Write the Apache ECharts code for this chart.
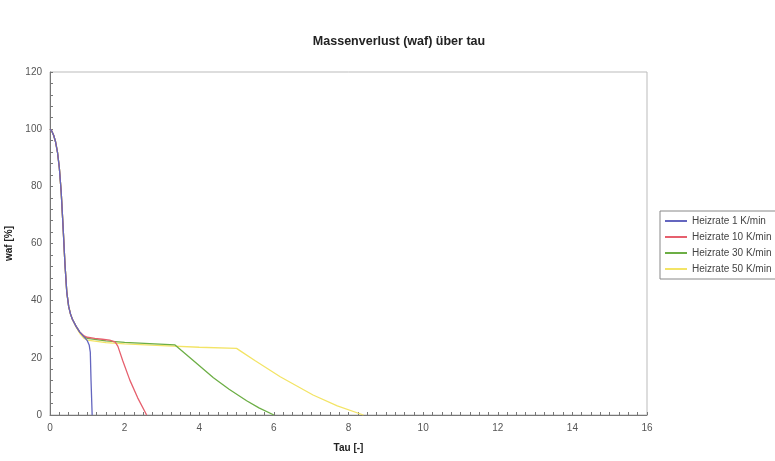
<!DOCTYPE html>
<html>
<head>
<meta charset="utf-8">
<script src="https://cdn.jsdelivr.net/npm/echarts@6/dist/echarts.min.js"></script>
<style>
  html, body { margin: 0; padding: 0; background: #fff; }
  #chart { width: 775px; height: 461px; }
</style>
</head>
<body>
<div id="chart"></div>
<script>
// Values: [tau, waf]
const rate1 = [[0, 100], [0.05, 99.3], [0.1, 97.8], [0.15, 95.5], [0.2, 92], [0.25, 86.5], [0.3, 78], [0.35, 66], [0.4, 53], [0.45, 43], [0.5, 38], [0.55, 35.3], [0.6, 33.5], [0.7, 31], [0.8, 29], [0.9, 27.5], [1.0, 26], [1.05, 24.5], [1.08, 22], [1.1, 12], [1.13, 0]];
const rate10 = [[0, 100], [0.05, 99.3], [0.1, 97.8], [0.15, 95.5], [0.2, 92], [0.25, 86.5], [0.3, 78], [0.35, 66], [0.4, 53], [0.45, 43], [0.5, 38], [0.55, 35.3], [0.6, 33.5], [0.7, 31], [0.8, 29], [0.9, 27.8], [1.0, 27.2], [1.2, 26.8], [1.4, 26.5], [1.6, 26.2], [1.75, 25.5], [1.82, 24], [1.95, 19], [2.14, 12.2], [2.35, 6], [2.59, 0]];
const rate30 = [[0, 100], [0.05, 99.3], [0.1, 97.8], [0.15, 95.5], [0.2, 92], [0.25, 86.5], [0.3, 78], [0.35, 66], [0.4, 53], [0.45, 43], [0.5, 38], [0.55, 35.3], [0.6, 33.5], [0.7, 31], [0.8, 29], [0.9, 27.6], [1.0, 26.8], [1.5, 25.9], [2.0, 25.4], [2.8, 24.9], [3.35, 24.5], [3.5, 22.8], [3.8, 19.5], [4.38, 13], [4.8, 9], [5.27, 5], [5.6, 2.5], [6.0, 0]];
const rate50 = [[0, 100], [0.05, 99.3], [0.1, 97.8], [0.15, 95.5], [0.2, 92], [0.25, 86.5], [0.3, 78], [0.35, 66], [0.4, 53], [0.45, 43], [0.5, 38], [0.55, 35.3], [0.6, 33.5], [0.7, 30.8], [0.8, 28.5], [0.9, 27], [1.0, 26.2], [1.5, 25.3], [2.0, 24.9], [3.0, 24.3], [4.0, 23.7], [5.0, 23.3], [5.15, 22], [5.5, 19], [6.17, 13.4], [7.05, 7], [7.7, 3.2], [8.4, 0]];

const seriesNames = ["Heizrate 1 K/min", "Heizrate 10 K/min", "Heizrate 30 K/min", "Heizrate 50 K/min"];
const seriesData = [rate1, rate10, rate30, rate50];
const seriesColors = ["#6466bf", "#e6606e", "#6cae45", "#f3e466"];

const chart = echarts.init(document.getElementById("chart"));
chart.setOption({
  backgroundColor: "#fff",
  animation: false,
  title: {
    text: "Massenverlust (waf) über tau",
    left: 394,
    top: 30,
    textAlign: "center",
    textStyle: { fontFamily: "Liberation Sans", fontSize: 12.5, fontWeight: "bold", color: "#222" },
  },
  legend: {
    orient: "vertical",
    left: 660,
    top: 211,
    itemWidth: 22,
    itemHeight: 2,
    itemGap: 6,
    icon: "rect",
    padding: [5, 40, 5, 5],
    borderColor: "#888",
    borderWidth: 1,
    textStyle: { fontFamily: "Liberation Sans", fontSize: 10, color: "#444" },
    data: seriesNames,
  },
  grid: {
    left: 50, right: 128, top: 72, bottom: 46,
    outerBoundsMode: "none",
    show: true, borderColor: "#bbb", borderWidth: 1,
  },
  xAxis: {
    type: "value",
    min: 0,
    max: 16,
    interval: 2,
    name: "Tau [-]",
    nameLocation: "middle",
    nameGap: 28,
    nameTextStyle: { fontFamily: "Liberation Sans", fontSize: 10, fontWeight: "bold", color: "#222" },
    axisLine: { lineStyle: { color: "#777" } },
    axisTick: { inside: true, length: 3, lineStyle: { color: "#777" } },
    minorTick: { show: true, splitNumber: 8, length: 3, lineStyle: { color: "#777" } },
    axisLabel: { fontFamily: "Liberation Sans", fontSize: 10, color: "#555", margin: 8 },
    splitLine: { show: false },
  },
  yAxis: {
    type: "value",
    min: 0,
    max: 120,
    interval: 20,
    name: "waf [%]",
    nameLocation: "middle",
    nameGap: 31,
    nameTextStyle: { fontFamily: "Liberation Sans", fontSize: 10, fontWeight: "bold", color: "#222" },
    axisLine: { show: true, lineStyle: { color: "#777" } },
    axisTick: { show: true, inside: true, length: 3, lineStyle: { color: "#777" } },
    minorTick: { show: true, splitNumber: 5, length: 3, lineStyle: { color: "#777" } },
    axisLabel: { fontFamily: "Liberation Sans", fontSize: 10, color: "#555", margin: 8 },
    splitLine: { show: false },
  },
  series: seriesData.map((data, i) => ({
    name: seriesNames[i],
    type: "line",
    data: data,
    showSymbol: false,
    color: seriesColors[i],
    lineStyle: { width: 1.3, color: seriesColors[i] },
    z: 4 - i,
  })),
});
</script>
</body>
</html>
